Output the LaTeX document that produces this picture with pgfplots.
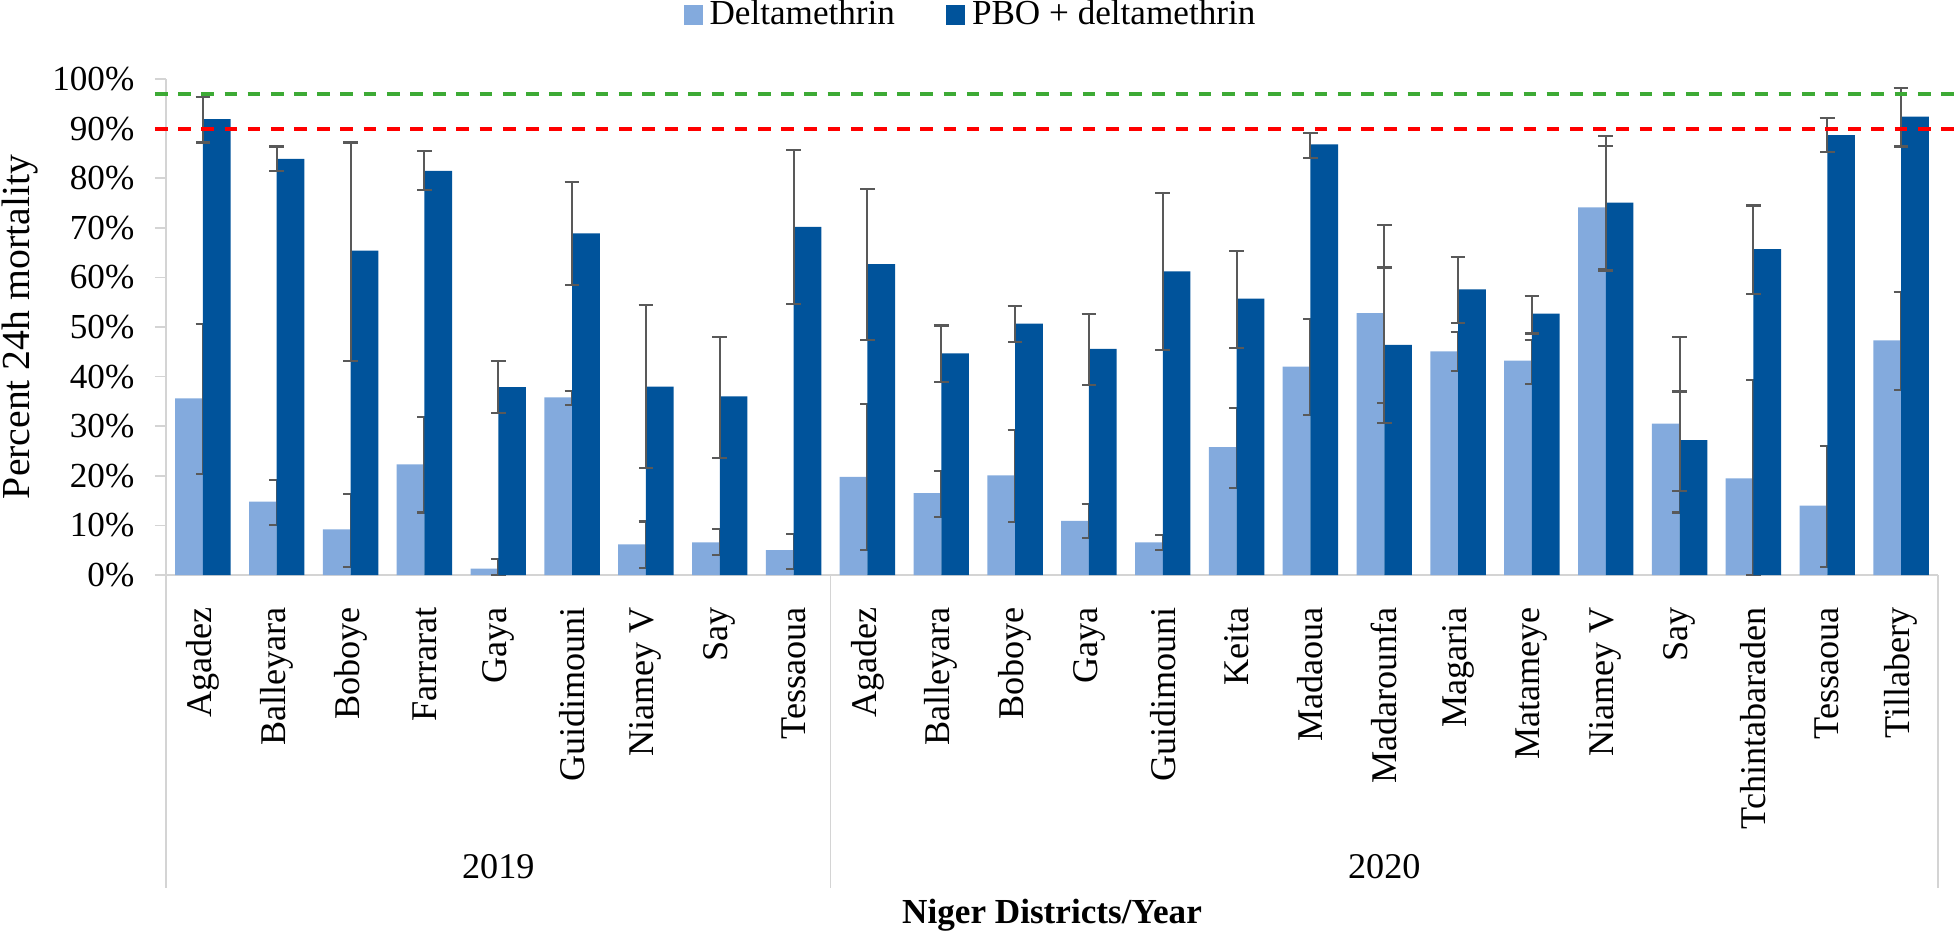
\documentclass[border=0pt]{standalone}
\usepackage{fontspec}
\setmainfont{Liberation Serif}
\usepackage{pgfplots}
\usepackage{pgfplotstable}
\pgfplotsset{compat=1.18}
\definecolor{deltablue}{HTML}{83AADD}
\definecolor{pboblue}{HTML}{00539B}
\definecolor{errgray}{HTML}{595959}
\definecolor{axgray}{HTML}{D4D4D4}
\definecolor{thrgreen}{HTML}{3DAA35}
\definecolor{thrred}{HTML}{FF0000}

% d = deltamethrin, p = PBO + deltamethrin; *p / *m = upper / lower error
\pgfplotstableread{
x  d     dp    dm    p     pp    pm
0  35.6  15.0  15.3  91.9  4.5   4.7
1  14.8  4.4   4.7   83.9  2.5   2.5
2  9.2   7.1   7.5   65.4  21.8  22.2
3  22.3  9.5   9.7   81.5  3.9   3.9
4  1.3   2.0   1.3   37.9  5.3   5.3
5  35.8  1.3   1.5   68.9  10.3  10.5
6  6.2   4.6   4.8   38.0  16.5  16.5
7  6.6   2.7   2.6   36.0  12.0  12.4
8  5.0   3.3   3.7   70.2  15.4  15.5
9  19.8  14.7  14.8  62.7  15.1  15.4
10 16.5  4.4   4.8   44.7  5.6   5.8
11 20.1  9.2   9.5   50.7  3.5   3.8
12 10.9  3.4   3.4   45.6  7.0   7.3
13 6.6   1.5   1.5   61.2  15.8  15.9
14 25.8  7.9   8.3   55.7  9.6   10.0
15 42.0  9.6   9.8   86.8  2.4   2.7
16 52.8  17.7  18.1  46.4  15.6  15.7
17 45.1  3.9   3.9   57.6  6.5   6.8
18 43.2  4.2   4.7   52.7  3.6   4.0
19 74.1  12.4  12.5  75.1  13.5  13.7
20 30.5  17.5  17.9  27.2  9.8   10.2
21 19.5  19.8  19.5  65.7  8.8   9.0
22 14.0  12.1  12.3  88.7  3.4   3.5
23 47.3  9.7   10.0  92.4  5.7   6.0
}\mortality

\begin{document}
\begin{tikzpicture}
\begin{axis}[
  scale only axis,
  width=177.2mm, height=49.6mm,
  xmin=-0.5, xmax=23.5, ymin=0, ymax=100,
  clip=false,
  axis x line*=bottom, axis y line*=left,
  axis line style={axgray, line width=0.5pt},
  tick align=outside, major tick length=1.1mm,
  ytick={0,10,...,100},
  yticklabels={0\%,10\%,20\%,30\%,40\%,50\%,60\%,70\%,80\%,90\%,100\%},
  ytick style={axgray, line width=0.5pt},
  yticklabel style={anchor=east, inner sep=0pt, xshift=-2.0mm, font=\fontsize{10}{12}\selectfont},
  xtick={0,...,23},
  xtick style={draw=none},
  xticklabels={Agadez,Balleyara,Boboye,Farrarat,Gaya,Guidimouni,Niamey V,Say,Tessaoua,
    Agadez,Balleyara,Boboye,Gaya,Guidimouni,Keita,Madaoua,Madarounfa,Magaria,Matameye,
    Niamey V,Say,Tchintabaraden,Tessaoua,Tillabery},
  xticklabel style={rotate=90, anchor=east, inner sep=0pt, outer sep=2.1mm, font=\fontsize{10.3}{12}\selectfont},
  xlabel={Niger Districts/Year},
  every axis x label/.style={at={(axis description cs:0.5,-0.6855)}, anchor=center, font=\fontsize{10}{12}\selectfont\bfseries},
  ylabel={Percent 24h mortality},
  every axis y label/.style={at={(axis description cs:-0.0824,0.5)}, rotate=90, anchor=center, font=\fontsize{11.3}{13}\selectfont},
  legend columns=2,
  legend style={draw=none, fill=none, at={(axis description cs:0.4554,1.129)}, anchor=center,
    font=\fontsize{10}{12}\selectfont,
    /tikz/every even column/.append style={column sep=4.4mm}},
  error bars/error bar style={errgray, line width=0.6pt},
  error bars/error mark options={errgray, rotate=90, mark size=2.1pt, line width=0.6pt},
]
\addplot[ybar, bar width=0.375, bar shift=-0.1875, fill=deltablue, draw=none,
  legend image code/.code={\fill[deltablue] (0mm,-1mm) rectangle (1.9mm,1mm);},
  error bars/.cd, y dir=both, y explicit]
  table[x=x, y=d, y error plus=dp, y error minus=dm] {\mortality};
\addlegendentry{Deltamethrin}
\addplot[ybar, bar width=0.375, bar shift=0.1875, fill=pboblue, draw=none,
  legend image code/.code={\fill[pboblue] (0mm,-1mm) rectangle (1.9mm,1mm);},
  error bars/.cd, y dir=both, y explicit]
  table[x=x, y=p, y error plus=pp, y error minus=pm] {\mortality};
\addlegendentry{PBO + deltamethrin}

\addplot[forget plot, thrgreen, line width=1.1pt, dash pattern=on 3.6pt off 3pt] coordinates {(-0.65,97) (23.82,97)};
\addplot[forget plot, thrred, line width=1.1pt, dash pattern=on 3.6pt off 3pt] coordinates {(-0.65,90) (23.82,90)};

\draw[axgray, line width=0.5pt] (axis cs:-0.5,0) -- ([yshift=-31.3mm]axis cs:-0.5,0);
\draw[axgray, line width=0.5pt] (axis cs:8.5,0) -- ([yshift=-31.3mm]axis cs:8.5,0);
\draw[axgray, line width=0.5pt] (axis cs:23.5,0) -- ([yshift=-31.3mm]axis cs:23.5,0);
\node[font=\fontsize{10.3}{12}\selectfont, yshift=-29.2mm] at (axis cs:4,0) {2019};
\node[font=\fontsize{10.3}{12}\selectfont, yshift=-29.2mm] at (axis cs:16,0) {2020};
\end{axis}
\pgfresetboundingbox
\useasboundingbox (-16.6mm,-36.2mm) rectangle (179.4mm,57.5mm);
\end{tikzpicture}
\end{document}
